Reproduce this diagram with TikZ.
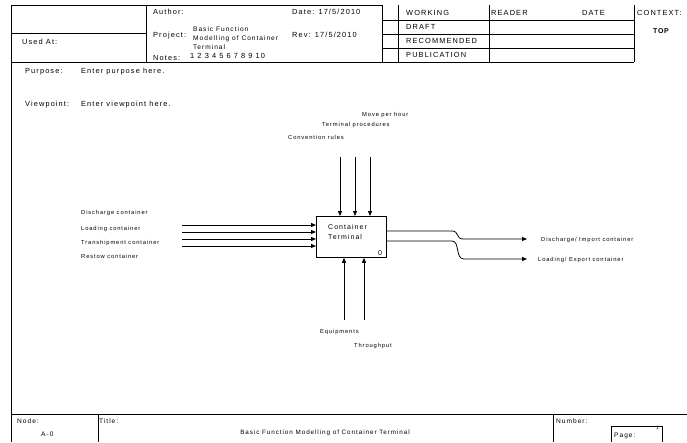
\documentclass[tikz,border=0pt]{standalone}
\usepackage{fontspec}
\setmainfont{Liberation Sans}[LetterSpace=15]
\newfontfamily\boldf{Liberation Sans}[LetterSpace=10]
\usetikzlibrary{arrows.meta}
\begin{document}
\begin{tikzpicture}[x=1pt,y=-1pt,
  frame/.style={line width=0.8pt},
  txt/.style={anchor=base west, inner sep=0, font=\fontsize{7.4}{8}\selectfont},
  ttl/.style={anchor=base west, inner sep=0, font=\fontsize{6.6}{7}\selectfont},
  lbl/.style={anchor=base west, inner sep=0, font=\fontsize{5.8}{6}\selectfont},
  arr/.style={line width=0.8pt, -{Triangle[length=5pt,width=4pt]}},
  proc/.style={draw, line width=0.8pt, minimum width=70pt, minimum height=41pt, anchor=north west, inner sep=0},
]
\useasboundingbox (0,0) rectangle (687,442);
% ---------- header frame ----------
\draw[frame] (11,442) -- (11,5) -- (382,5);
\draw[frame] (146,5) -- (146,62);
\draw[frame] (11,33) -- (146,33);
\draw[frame] (11,62) -- (634,62);
\draw[frame] (382,5) -- (382,62);
\draw[frame] (398,5) -- (398,62);
\draw[frame] (489,5) -- (489,62);
\draw[frame] (634,5) -- (634,62);
\draw[frame] (382,20) -- (634,20);
\draw[frame] (382,34) -- (634,34);
\draw[frame] (382,48) -- (634,48);
% header texts
\node[txt] (usedat) at (22,44) {Used At:};
\node[txt] (author) at (153,14) {Author:};
\node[txt] (date) at (292,14) {Date: 17/5/2010};
\node[txt] (project) at (153,37) {Project:};
\node[ttl] (proj1) at (193,31) {Basic Function};
\node[ttl] (proj2) at (193,40) {Modelling of Container};
\node[ttl] (proj3) at (193,49) {Terminal};
\node[txt] (rev) at (292,37) {Rev: 17/5/2010};
\node[txt] (notes) at (153,60) {Notes:};
\node[txt] (notesn) at (190,58) {1 2 3 4 5 6 7 8 9 10};
\node[txt] (working) at (406,15) {WORKING};
\node[txt] (draft) at (406,29) {DRAFT};
\node[txt] (recom) at (406,43) {RECOMMENDED};
\node[txt] (publ) at (406,57) {PUBLICATION};
\node[txt] (reader) at (491,15) {READER};
\node[txt] (rdate) at (582,15) {DATE};
\node[txt] (context) at (637,15) {CONTEXT:};
\node[txt, anchor=base, font=\boldf\fontsize{7}{8}\selectfont\bfseries] (top) at (661,33) {TOP};
\node[txt] (purpose) at (25,73) {Purpose:};
\node[txt] (purposet) at (81,73) {Enter purpose here.};
\node[txt] (viewpoint) at (25,106) {Viewpoint:};
\node[txt] (viewpointt) at (81,106) {Enter viewpoint here.};
% ---------- footer ----------
\draw[frame] (11,414) -- (687,414);
\draw[frame] (98,414) -- (98,442);
\draw[frame] (553,414) -- (553,442);
\node[ttl] (node) at (17,423) {Node:};
\node[ttl] (anode) at (41,436) {A-0};
\node[ttl] (title) at (99,423) {Title:};
\node[ttl, anchor=base, font=\fontsize{6.3}{7}\selectfont] (titlet) at (325,434) {Basic Function Modelling of Container Terminal};
\node[ttl] (number) at (556,423) {Number:};
\draw[frame] (611,442) -- (611,426) -- (662,426) -- (662,442);
\node[ttl] (page) at (614,437) {Page:};
\node[txt, font=\fontsize{5}{6}\selectfont] (pagen) at (656,429) {1};
% ---------- diagram ----------
\node[proc] (ct) at (316,216) {};
\node[anchor=west, inner sep=0, align=left, font=\fontsize{7}{9.5}\selectfont] (ctl) at (328,232) {Container\\Terminal};
\node[anchor=base, inner sep=0, font=\fontsize{7}{8}\selectfont] (ctn) at (380,255) {0};
% controls
\coordinate (c1) at (340,157);
\coordinate (c2) at (355,157);
\coordinate (c3) at (370,157);
\foreach \c in {c1,c2,c3} \draw[arr] (\c) -- (\c |- ct.north);
\node[lbl] (lc3) at (362,116) {Move per hour};
\node[lbl] (lc2) at (322,126) {Terminal procedures};
\node[lbl] (lc1) at (288,139) {Convention rules};
% inputs
\coordinate (i1) at (182,225);
\coordinate (i2) at (182,232);
\coordinate (i3) at (182,239);
\coordinate (i4) at (182,246);
\foreach \c in {i1,i2,i3,i4} \draw[arr] (\c) -- (\c -| ct.west);
\node[lbl] (li1) at (81,214) {Discharge container};
\node[lbl] (li2) at (81,230) {Loading container};
\node[lbl] (li3) at (81,244) {Transhipment container};
\node[lbl] (li4) at (81,258) {Restow container};
% outputs
\coordinate (o1) at (527,239);
\coordinate (o2) at (527,259);
\draw[arr] (ct.east |- 0,231) -- (452,231) .. controls (459,231) and (456,239) .. (463,239) -- (o1);
\draw[arr] (ct.east |- 0,241) -- (452,241) .. controls (460,241) and (455,259) .. (464,259) -- (o2);
\node[lbl] (lo1) at (541,241) {Discharge/ Import container};
\node[lbl] (lo2) at (538,261) {Loading/ Export container};
% mechanisms
\coordinate (m1) at (344,320);
\coordinate (m2) at (364,320);
\foreach \c in {m1,m2} \draw[arr] (\c) -- (\c |- ct.south);
\node[lbl] (lm1) at (320,333) {Equipments};
\node[lbl] (lm2) at (354,347) {Throughput};
\end{tikzpicture}
\end{document}
